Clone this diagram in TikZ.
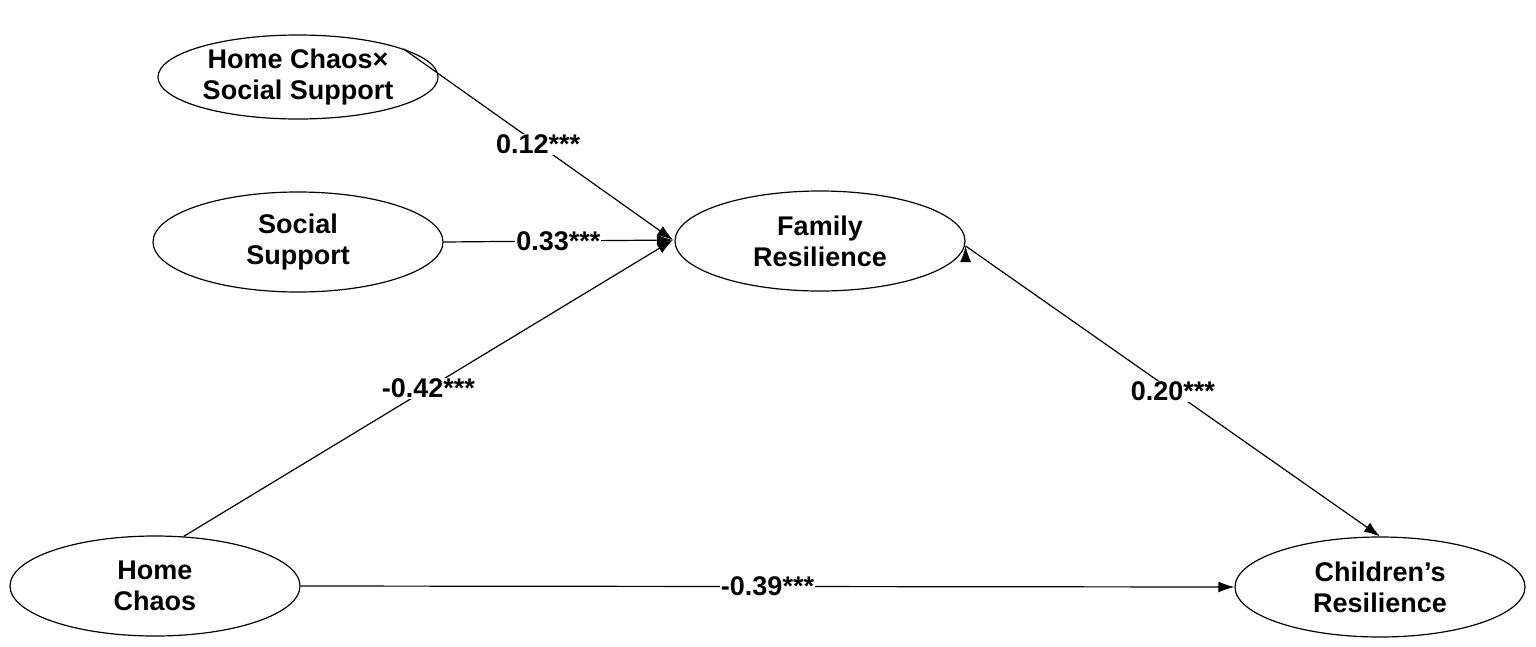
\documentclass[tikz,border=0pt]{standalone}
\usepackage{fontspec}
\setmainfont{Liberation Sans}
\usetikzlibrary{shapes.geometric,arrows.meta}
\begin{document}
\begin{tikzpicture}[x=1pt,y=-1pt,
  var/.style={ellipse,draw,line width=1.2pt,minimum width=#1,font=\fontsize{27}{31}\selectfont\bfseries,align=center,inner sep=0pt},
  var/.default=290pt,
  path/.style={line width=1.2pt,-{Latex[length=16pt,width=11pt]}},
  lab/.style={fill=white,inner sep=1pt,font=\fontsize{27}{31}\selectfont\bfseries}]
\useasboundingbox (0,0) rectangle (1536,646);
\node[var=280pt,minimum height=84pt] (hcss) at (298,77) {Home Chaos×\\Social Support};
\node[var,minimum height=100pt] (ss) at (298,242) {Social\\Support};
\node[var,minimum height=100pt] (fr) at (820,241) {Family\\Resilience};
\node[var,minimum height=100pt] (hc) at (155,586) {Home\\Chaos};
\node[var,minimum height=100pt] (cr) at (1380,587) {Children's\\Resilience};
\coordinate (frin) at (673,240);
\draw[path] (hcss.15) -- node[lab,pos=0.5]{0.12***} (frin);
\draw[path] (ss.east) -- node[lab]{0.33***} (frin);
\draw[path] (hc.60) -- node[lab,pos=0.5]{-0.42***} (frin);
\draw[path] (fr.east) ++(0,5) coordinate (fre);
\draw[path] (fre) -- node[lab,pos=0.5]{0.20***} (cr.north);
\draw[path] (hc.east) -- node[lab,pos=0.5]{-0.39***} (cr.west);
\end{tikzpicture}
\end{document}
